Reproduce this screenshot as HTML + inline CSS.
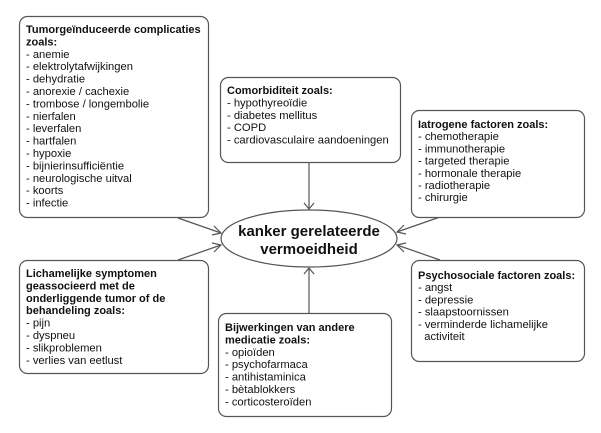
<!DOCTYPE html>
<html><head><meta charset="utf-8"><style>
html,body{margin:0;padding:0;background:#fff;}
svg{display:block;}
text{font-family:"Liberation Sans",sans-serif;font-size:11.2px;fill:#111;}
.b{font-weight:bold;font-size:11px;}
.box{fill:#fff;stroke:#555;stroke-width:1.2;}
.ln{stroke:#555;stroke-width:1.2;fill:none;}
</style></head><body>
<svg width="601" height="433" viewBox="0 0 601 433" xmlns="http://www.w3.org/2000/svg">
<line class="ln" x1="309" y1="163" x2="309" y2="209"/>
<polyline class="ln" points="304,203 309,209 314,203"/>
<line class="ln" x1="309" y1="313" x2="309" y2="268"/>
<polyline class="ln" points="304,274 309,268 314,274"/>
<line class="ln" x1="178" y1="218" x2="221" y2="233"/>
<polyline class="ln" points="214,226 221,233 212,235"/>
<line class="ln" x1="178" y1="260" x2="221" y2="245"/>
<polyline class="ln" points="212,243 221,245 214,252"/>
<line class="ln" x1="440" y1="217" x2="397" y2="232"/>
<polyline class="ln" points="406,234 397,232 404,225"/>
<line class="ln" x1="440" y1="260" x2="397" y2="245"/>
<polyline class="ln" points="404,252 397,245 406,243"/>
<ellipse cx="309" cy="238.5" rx="88" ry="28.5" fill="#fff" stroke="#555" stroke-width="1.2"/>
<text class="b" x="309" y="236" text-anchor="middle" style="font-size:15px">kanker gerelateerde</text>
<text class="b" x="309" y="254" text-anchor="middle" style="font-size:15px">vermoeidheid</text>
<rect class="box" x="19.5" y="16.5" width="189" height="201" rx="8"/>
<g transform="translate(26,33)">
<text class="b" y="0">Tumorgeïnduceerde complicaties</text>
<text class="b" y="12.4">zoals:</text>
<text y="24.8">- anemie</text>
<text y="37.2">- elektrolytafwijkingen</text>
<text y="49.6">- dehydratie</text>
<text y="62">- anorexie / cachexie</text>
<text y="74.4">- trombose / longembolie</text>
<text y="86.8">- nierfalen</text>
<text y="99.2">- leverfalen</text>
<text y="111.6">- hartfalen</text>
<text y="124">- hypoxie</text>
<text y="136.4">- bijnierinsufficiëntie</text>
<text y="148.8">- neurologische uitval</text>
<text y="161.2">- koorts</text>
<text y="173.6">- infectie</text>
</g>
<rect class="box" x="220.5" y="77.5" width="180" height="85" rx="8"/>
<g transform="translate(227,94)">
<text class="b" y="0">Comorbiditeit zoals:</text>
<text y="12.4">- hypothyreoïdie</text>
<text y="24.8">- diabetes mellitus</text>
<text y="37.2">- COPD</text>
<text y="49.6">- cardiovasculaire aandoeningen</text>
</g>
<rect class="box" x="411.5" y="110.5" width="173" height="107" rx="8"/>
<g transform="translate(418,128)">
<text class="b" y="0">Iatrogene factoren zoals:</text>
<text y="12.2">- chemotherapie</text>
<text y="24.4">- immunotherapie</text>
<text y="36.6">- targeted therapie</text>
<text y="48.8">- hormonale therapie</text>
<text y="61">- radiotherapie</text>
<text y="73.2">- chirurgie</text>
</g>
<rect class="box" x="19.5" y="260.5" width="189" height="113" rx="8"/>
<g transform="translate(26,277)">
<text class="b" y="0">Lichamelijke symptomen</text>
<text class="b" y="12.4">geassocieerd met de</text>
<text class="b" y="24.8">onderliggende tumor of de</text>
<text class="b" y="37.2">behandeling zoals:</text>
<text y="49.6">- pijn</text>
<text y="62">- dyspneu</text>
<text y="74.4">- slikproblemen</text>
<text y="86.8">- verlies van eetlust</text>
</g>
<rect class="box" x="218.5" y="313.5" width="173" height="103" rx="8"/>
<g transform="translate(225,331)">
<text class="b" y="0">Bijwerkingen van andere</text>
<text class="b" y="12.4">medicatie zoals:</text>
<text y="24.8">- opioïden</text>
<text y="37.2">- psychofarmaca</text>
<text y="49.6">- antihistaminica</text>
<text y="62">- bètablokkers</text>
<text y="74.4">- corticosteroïden</text>
</g>
<rect class="box" x="411.5" y="260.5" width="173" height="101" rx="8"/>
<g transform="translate(418,279)">
<text class="b" y="0">Psychosociale factoren zoals:</text>
<text y="12.2">- angst</text>
<text y="24.4">- depressie</text>
<text y="36.6">- slaapstoornissen</text>
<text y="48.8">- verminderde lichamelijke</text>
<text y="61">&#160;&#160;activiteit</text>
</g>
</svg>
</body></html>
